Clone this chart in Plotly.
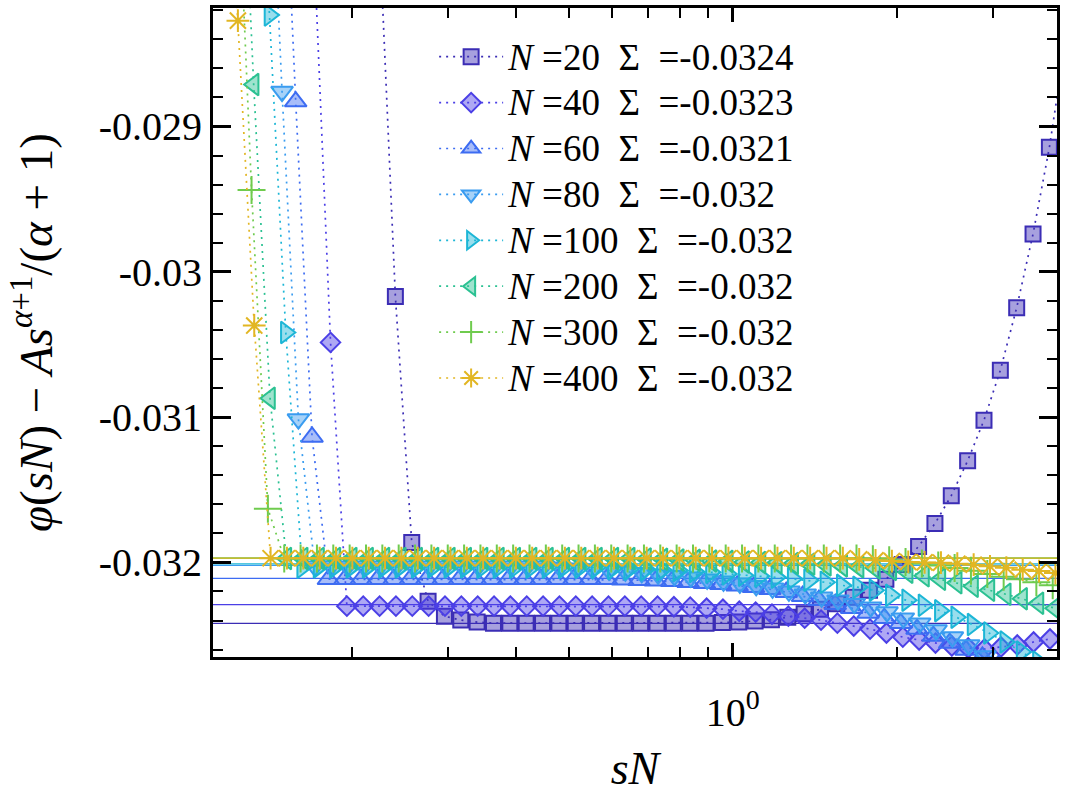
import plotly.graph_objects as go

# shared grid of log10(s); index k runs from K0 upward
K0 = 15
log_s = [-3.54, -3.51, -3.48, -3.45, -3.42, -3.39, -3.36, -3.33, -3.30, -3.27,
         -3.24, -3.21, -3.18, -3.15, -3.12, -3.09, -3.06, -3.03, -3.00, -2.97,
         -2.94, -2.91, -2.88, -2.85, -2.82, -2.79, -2.76, -2.73, -2.70, -2.67,
         -2.64, -2.61, -2.58, -2.55, -2.52, -2.49, -2.46, -2.43, -2.40, -2.37,
         -2.34, -2.31, -2.28, -2.25, -2.22, -2.19, -2.16, -2.13, -2.10, -2.07,
         -2.04, -2.01, -1.98, -1.95, -1.92, -1.89, -1.86, -1.83, -1.80, -1.77,
         -1.74, -1.71, -1.68, -1.65, -1.62, -1.59, -1.56, -1.53, -1.50, -1.47,
         -1.44, -1.41, -1.38, -1.35, -1.32, -1.29, -1.26, -1.23, -1.20, -1.17,
         -1.14, -1.11, -1.08, -1.05, -1.02, -0.99, -0.96, -0.93, -0.90, -0.87,
         -0.84, -0.81, -0.78, -0.75, -0.72, -0.69]

N_values = [20, 40, 60, 80, 100, 200, 300, 400]
start_k = [68, 54, 46, 41, 37, 26, 20, 15]
sigma_values = [-0.03242, -0.03229, -0.03211, -0.03202, -0.03201, -0.03197, -0.03197, -0.03197]
sigma_labels = ["-0.0324", "-0.0323", "-0.0321", "-0.032", "-0.032", "-0.032", "-0.032", "-0.032"]

y_N20 = [-0.0276, -0.030171, -0.031863, -0.032267, -0.03237, -0.032397, -0.032411,
         -0.032418, -0.032418, -0.032418, -0.032418, -0.032418, -0.032418, -0.032418,
         -0.032418, -0.032418, -0.032418, -0.032418, -0.032418, -0.032418, -0.032418,
         -0.032414, -0.032411, -0.032404, -0.032394, -0.032377, -0.032353, -0.032322,
         -0.032284, -0.03224, -0.032192, -0.032116, -0.032014, -0.03189, -0.031733,
         -0.031541, -0.031301, -0.031021, -0.030678, -0.030247, -0.02974, -0.029144,
         -0.028404]
y_N40 = [-0.0278, -0.030486,
         -0.032301, -0.032301, -0.032301, -0.032301, -0.032301, -0.032301, -0.032301,
         -0.032301, -0.032301, -0.032301, -0.032301, -0.032301, -0.032301, -0.032301,
         -0.032301, -0.032301, -0.032301, -0.032301, -0.032301, -0.032301,
         -0.032305, -0.032308, -0.032315, -0.032322, -0.032336, -0.032342, -0.032356,
         -0.03237, -0.032384, -0.032397, -0.032418, -0.032438, -0.032459, -0.032486,
         -0.032514, -0.032534, -0.032555, -0.032575, -0.032589, -0.032596, -0.032582,
         -0.032568, -0.032548, -0.032527]
y_N60 = [-0.0263, -0.028829, -0.031137,
         -0.032116, -0.032116, -0.032116, -0.032116, -0.032116, -0.032116, -0.032116,
         -0.032116, -0.032116, -0.032116, -0.032116, -0.032116, -0.032116, -0.032116,
         -0.032116, -0.032116, -0.032116, -0.032116,
         -0.03212, -0.032123, -0.032127, -0.03213, -0.032137, -0.032144, -0.032151,
         -0.032161, -0.032171, -0.032185, -0.032205, -0.032233, -0.03226, -0.032288,
         -0.032315, -0.032349, -0.032384, -0.032418, -0.032459, -0.032507, -0.032555,
         -0.032603, -0.032651, -0.032705]
y_N80 = [-0.0263, -0.02876, -0.031014,
         -0.032027, -0.032027, -0.032027, -0.032027, -0.032027, -0.032027, -0.032027,
         -0.032027, -0.032027, -0.032027, -0.032027, -0.032027, -0.032027, -0.032027,
         -0.032027,
         -0.032034, -0.032041, -0.032048, -0.032055, -0.032062, -0.032072, -0.032082,
         -0.032092, -0.032103, -0.032116, -0.03213, -0.032144, -0.032161, -0.032178,
         -0.032199, -0.032219, -0.03224, -0.03226, -0.032284, -0.032308, -0.032342,
         -0.032384, -0.032418, -0.032466, -0.032514, -0.032568, -0.032644, -0.032726]
y_N100 = [-0.0258, -0.028233, -0.030418, -0.032034,
          -0.032031, -0.032031, -0.032031, -0.032031, -0.032031, -0.032031, -0.032031,
          -0.032031, -0.032031, -0.032031,
          -0.032034, -0.032034, -0.032034, -0.032034, -0.032034, -0.032034, -0.032034,
          -0.032034,
          -0.032041, -0.032045, -0.032048, -0.032051, -0.032055, -0.032062, -0.032068,
          -0.032079, -0.032089, -0.032096, -0.032103, -0.032113, -0.032123, -0.032137,
          -0.032158, -0.032171, -0.032192, -0.032226, -0.03226, -0.032295, -0.032332,
          -0.032377, -0.032428, -0.032486, -0.032548, -0.032616, -0.032685]
y_N200 = [-0.0262, -0.028712, -0.03087,
          -0.031973, -0.031973, -0.031973, -0.031973, -0.031973, -0.031973, -0.031973,
          -0.031973, -0.031973, -0.031973, -0.031973, -0.031973, -0.031973, -0.031973,
          -0.031973, -0.031973, -0.031973, -0.031973, -0.031973, -0.031973, -0.031973,
          -0.031973,
          -0.031976, -0.031979, -0.031983, -0.031986, -0.03199, -0.031993, -0.031997,
          -0.032, -0.032003, -0.032007, -0.032012, -0.032017, -0.032024, -0.032031,
          -0.032038, -0.032048, -0.032068, -0.032092, -0.032116, -0.03214, -0.032164,
          -0.032192, -0.032219, -0.03225, -0.032281, -0.032315]
y_N300 = [-0.0268, -0.029438, -0.03163,
          -0.031973, -0.031973, -0.031973, -0.031973, -0.031973, -0.031973, -0.031973,
          -0.031973, -0.031973, -0.031973, -0.031973, -0.031973, -0.031973, -0.031973,
          -0.031973, -0.031973, -0.031973, -0.031973, -0.031973, -0.031973, -0.031973,
          -0.031973, -0.031973, -0.031973, -0.031973, -0.031973, -0.031973, -0.031973,
          -0.031973, -0.031973, -0.031973, -0.031973, -0.031973, -0.031973, -0.031973,
          -0.031973,
          -0.031979, -0.031986, -0.031997, -0.032007, -0.032021, -0.032038, -0.032058,
          -0.032079, -0.032099, -0.032116, -0.032137, -0.032158]
y_N400 = [-0.0262, -0.028272, -0.03037,
          -0.031971, -0.031971, -0.031971, -0.031971, -0.031971, -0.031971, -0.031971,
          -0.031971, -0.031971, -0.031971, -0.031971, -0.031971, -0.031971, -0.031971,
          -0.031971, -0.031971, -0.031971, -0.031971, -0.031971, -0.031971, -0.031971,
          -0.031971, -0.031971, -0.031971, -0.031971, -0.031971, -0.031971, -0.031971,
          -0.031971, -0.031971, -0.031971, -0.031971, -0.031971, -0.031971, -0.031971,
          -0.031971,
          -0.031979, -0.031986, -0.031991, -0.031997, -0.032, -0.032002, -0.032009,
          -0.032016, -0.032027, -0.032036, -0.03205, -0.03206, -0.032073]

y_series = [y_N20, y_N40, y_N60, y_N80, y_N100, y_N200, y_N300, y_N400]

y_tickvals = [-0.029, -0.030, -0.031, -0.032]
y_ticktext = ["-0.029", "-0.03", "-0.031", "-0.032"]
x_minor_ticks = [0.2, 0.3, 0.4, 0.5, 0.6, 0.7, 0.8, 0.9, 2, 3]

colors = ["#3b2db5", "#4b3fe6", "#3d6cf2", "#3a9cf0", "#1cb6d6", "#2bc192", "#6fcb4e", "#e2b623"]
symbols = ["square", "diamond", "triangle-up", "triangle-down", "triangle-right",
           "triangle-left", "cross-thin-open", "asterisk-open"]
sizes = [15, 15, 19, 19, 19, 19, 20, 19]

FONT = "Liberation Serif, Times New Roman, serif"


def rgba(hexc, a):
    h = hexc.lstrip("#")
    r, g, b = int(h[0:2], 16), int(h[2:4], 16), int(h[4:6], 16)
    return f"rgba({r},{g},{b},{a})"


fig = go.Figure()
for i, N in enumerate(N_values):
    ys = y_series[i]
    k0 = start_k[i] - K0
    xs = [N * 10 ** log_s[k0 + j] for j in range(len(ys))]
    c = colors[i]
    open_sym = symbols[i].endswith("open")
    label = (f'<span style="font-size:37px"><i>N</i> ={N}  Σ  ={sigma_labels[i]}</span>')
    fig.add_trace(go.Scatter(
        x=xs, y=ys, mode="lines+markers",
        name=label,
        legendgroup=f"g{i}",
        line=dict(color=c, width=1.7, dash="2px,5px"),
        marker=dict(symbol=symbols[i], size=sizes[i],
                    color=(c if open_sym else rgba(c, 0.45)),
                    line=dict(color=c, width=2)),
    ))

shapes = []
for i in range(len(N_values)):
    shapes.append(dict(type="line", xref="paper", x0=0, x1=1, yref="y",
                       y0=sigma_values[i], y1=sigma_values[i],
                       line=dict(color=colors[i], width=1.2), layer="below"))

fig.update_layout(
    width=1065, height=794,
    margin=dict(l=213, r=8, t=5, b=137),
    paper_bgcolor="white", plot_bgcolor="white",
    font=dict(family=FONT, color="black", size=34),
    shapes=shapes,
    showlegend=True,
    legend=dict(x=0.262, y=0.968, xanchor="left", yanchor="top",
                bgcolor="rgba(0,0,0,0)", font=dict(size=33, family=FONT),
                tracegroupgap=0, itemwidth=64),
)

fig.update_xaxes(
    type="log", range=[-0.9536, 0.595],
    showline=True, linewidth=3, linecolor="black", mirror="allticks",
    ticks="inside", ticklen=14, tickwidth=2.5, tickcolor="black",
    tickvals=[1], ticktext=["10<sup>0</sup>"],
    tickfont=dict(size=40, family=FONT),
    ticklabelstandoff=18,
    minor=dict(tickvals=x_minor_ticks, ticks="inside", ticklen=10, tickwidth=2, tickcolor="black"),
    showgrid=False, zeroline=False,
    title=dict(text="<i>sN</i>", font=dict(size=46, family=FONT), standoff=18),
)
fig.update_yaxes(
    range=[-0.032651, -0.028185],
    showline=True, linewidth=3, linecolor="black", mirror="allticks",
    ticks="inside", ticklen=18, tickwidth=2.5, tickcolor="black",
    tickvals=y_tickvals, ticktext=y_ticktext,
    tickfont=dict(size=40, family=FONT),
    minor=dict(dtick=0.0002, tick0=-0.032, ticks="inside", ticklen=10, tickwidth=2, tickcolor="black"),
    showgrid=False, zeroline=False,
    title=dict(text="<i>φ</i>(<i>sN</i>) − <i>As</i><sup><i>α</i>+1</sup>/(<i>α</i> + 1)",
               font=dict(size=47, family=FONT), standoff=32),
)

fig.write_html("out.html")
